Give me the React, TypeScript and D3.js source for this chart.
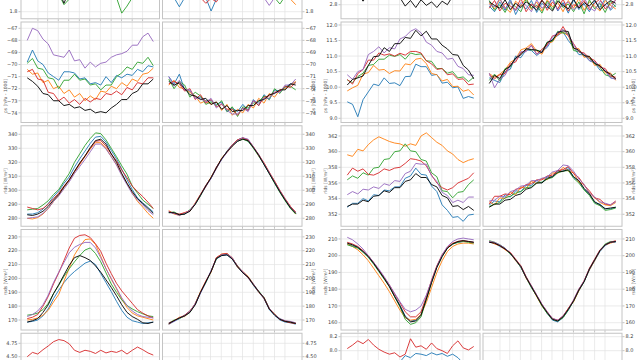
import React from 'react';
import * as d3 from 'd3';

// ---------- categories / styling keys ----------
const COLORS = ['#1f77b4', '#ff7f0e', '#2ca02c', '#d62728', '#9467bd', '#000000'];
const MONTH_STARTS = [31, 59, 90, 120, 151, 181, 212, 243, 273, 304, 334];
const N = 25;
const DAYS = d3.range(N).map(i => (i * 365) / (N - 1));

// ---------- tick labels ----------
const T_R1L = [1.8, 2.0, 2.2, 2.4, 2.6, 2.8, 3.0];
const T_R1R = [2.8, 3.0, 3.2, 3.4, 3.6, 3.8, 4.0];
const T_R2L = [-74, -73, -72, -71, -70, -69, -68, -67];
const T_R2R = [9.0, 9.5, 10.0, 10.5, 11.0, 11.5, 12.0];
const T_R3L = [280, 290, 300, 310, 320, 330, 340];
const T_R3R = [352, 354, 356, 358, 360, 362];
const T_R4L = [170, 180, 190, 200, 210, 220, 230];
const T_R4R = [160, 170, 180, 190, 200, 210];
const T_R5L = [3.5, 3.75, 4.0, 4.25, 4.5, 4.75];
const T_R5R = [7.4, 7.6, 7.8, 8.0, 8.2];

// ---------- row 1 (partially visible) ----------
const r1A_green = [2.3, 2.25, 2.2, 2.2, 2.15, 2.1, 2.05, 1.9, 1.98, 2.05, 2.1, 2.15, 2.2, 2.2, 2.15, 2.1, 2.05, 2.0, 1.78, 1.88, 2.0, 2.1, 2.15, 2.2, 2.25];
const r1A_black = [2.4, 2.35, 2.3, 2.3, 2.25, 2.2, 2.1, 1.92, 2.1, 2.2, 2.25, 2.3, 2.3, 2.35, 2.3, 2.25, 2.2, 2.15, 2.1, 2.05, 2.1, 2.2, 2.25, 2.3, 2.35];
const r1B_blue = [2.1, 2.0, 1.87, 2.0, 2.1, 2.15, 2.1, 2.0, 1.81, 1.98, 2.1, 2.15, 2.2, 2.2, 2.15, 2.1, 2.1, 2.05, 2.05, 2.1, 2.1, 2.15, 2.2, 2.2, 2.15];
const r1B_orange = [2.3, 2.25, 2.2, 2.2, 2.15, 2.15, 2.1, 2.1, 2.1, 2.1, 2.15, 2.2, 2.2, 2.2, 2.15, 2.1, 2.1, 2.05, 2.05, 2.05, 2.05, 2.0, 2.0, 1.98, 1.9];
const r1B_green = [2.3, 2.25, 2.25, 2.2, 2.2, 2.15, 2.1, 2.1, 2.1, 2.15, 2.2, 2.25, 2.25, 2.2, 2.15, 2.1, 2.1, 2.05, 2.05, 2.0, 2.0, 1.91, 2.02, 2.1, 2.15];
const r1B_red = [2.2, 2.15, 2.1, 2.1, 2.05, 2.05, 2.0, 1.92, 1.99, 1.94, 2.05, 2.1, 2.15, 2.2, 2.2, 2.15, 2.1, 2.1, 2.05, 2.1, 2.15, 2.2, 2.2, 2.2, 2.2];
const r1B_purple = [2.3, 2.25, 2.2, 2.2, 2.2, 2.15, 2.15, 2.1, 2.1, 2.1, 2.15, 2.2, 2.2, 2.2, 2.15, 2.1, 2.05, 2.05, 2.0, 1.89, 2.0, 2.1, 2.15, 2.2, 2.25];
const r1C_black = [3.1, 3.0, 2.95, 2.85, 2.95, 3.0, 3.0, 2.95, 2.95, 2.95, 2.9, 2.78, 2.86, 2.76, 2.87, 2.79, 2.84, 2.76, 2.85, 2.8, 2.92, 2.95, 3.0, 3.0, 3.05];
const r1D_blue = [2.78, 2.7, 2.84, 2.72, 2.88, 2.66, 2.8, 2.74, 2.86, 2.69, 2.82, 2.75, 2.9, 2.71, 2.83, 2.68, 2.87, 2.73, 2.81, 2.7, 2.85, 2.76, 2.89, 2.72, 2.8];
const r1D_orange = [2.82, 2.74, 2.88, 2.76, 2.69, 2.85, 2.78, 2.9, 2.73, 2.84, 2.71, 2.87, 2.77, 2.83, 2.7, 2.86, 2.75, 2.89, 2.72, 2.84, 2.78, 2.71, 2.86, 2.79, 2.74];
const r1D_green = [2.86, 2.72, 2.8, 2.69, 2.83, 2.77, 2.7, 2.88, 2.75, 2.79, 2.68, 2.85, 2.73, 2.89, 2.76, 2.81, 2.7, 2.84, 2.67, 2.87, 2.74, 2.82, 2.69, 2.85, 2.77];
const r1D_red = [2.75, 2.86, 2.71, 2.82, 2.78, 2.73, 2.89, 2.7, 2.81, 2.76, 2.87, 2.72, 2.84, 2.74, 2.88, 2.71, 2.8, 2.77, 2.86, 2.73, 2.82, 2.88, 2.74, 2.81, 2.86];
const r1D_purple = [2.8, 2.77, 2.89, 2.74, 2.85, 2.71, 2.83, 2.79, 2.7, 2.87, 2.75, 2.81, 2.88, 2.72, 2.8, 2.84, 2.73, 2.78, 2.9, 2.76, 2.71, 2.85, 2.79, 2.74, 2.88];
const r1D_black = [2.84, 2.79, 2.75, 2.87, 2.73, 2.82, 2.76, 2.84, 2.79, 2.72, 2.86, 2.78, 2.71, 2.85, 2.79, 2.74, 2.88, 2.75, 2.83, 2.78, 2.87, 2.73, 2.8, 2.86, 2.82];

// ---------- row 2: ps ----------
const psA_blue = [-69.8, -68.8, -69.7, -70.0, -70.7, -71.0, -71.3, -70.6, -70.6, -70.7, -71.2, -71.1, -71.6, -71.5, -71.7, -71.0, -71.5, -70.9, -71.1, -70.8, -70.9, -70.4, -70.6, -70.1, -70.2];
const psA_orange = [-70.4, -70.8, -70.7, -71.5, -71.3, -72.0, -71.8, -72.4, -72.1, -72.7, -72.4, -73.0, -72.6, -72.9, -72.2, -72.3, -71.8, -72.0, -71.5, -71.8, -71.2, -71.4, -70.8, -70.7, -70.3];
const psA_green = [-69.9, -69.5, -70.3, -70.4, -71.1, -71.2, -72.0, -71.3, -71.3, -70.8, -71.3, -71.2, -71.7, -71.6, -72.1, -71.7, -71.7, -71.0, -70.7, -70.2, -70.4, -69.8, -69.9, -69.4, -70.1];
const psA_red = [-70.6, -70.4, -71.2, -71.3, -72.3, -72.4, -73.0, -72.7, -73.2, -72.9, -73.3, -72.8, -73.1, -72.8, -72.9, -72.4, -72.5, -72.2, -72.5, -71.9, -72.1, -71.5, -71.6, -71.1, -71.1];
const psA_purple = [-68.0, -67.0, -67.2, -67.9, -68.3, -69.2, -69.3, -69.4, -68.8, -69.7, -69.6, -70.3, -69.8, -70.2, -69.9, -69.8, -69.4, -69.2, -69.1, -68.9, -68.4, -68.4, -67.7, -67.4, -68.1];
const psA_black = [-71.1, -71.4, -71.8, -72.4, -72.5, -73.0, -73.0, -73.4, -73.3, -73.6, -73.5, -73.8, -73.7, -74.0, -73.9, -74.0, -73.6, -73.3, -72.9, -72.9, -72.4, -72.2, -71.6, -71.6, -71.2];

const psB_blue = [-71.0, -71.6, -70.8, -72.1, -72.2, -72.7, -72.7, -73.0, -73.0, -73.3, -73.1, -73.9, -73.6, -73.9, -73.3, -73.8, -72.9, -73.4, -72.5, -72.9, -72.1, -72.2, -71.9, -71.6, -71.5];
const psB_orange = [-71.7, -71.3, -71.9, -72.0, -72.3, -72.6, -73.2, -73.0, -73.3, -73.1, -73.8, -73.3, -74.2, -73.7, -74.0, -73.3, -73.6, -72.8, -73.2, -72.4, -72.7, -72.1, -72.0, -71.7, -71.4];
const psB_green = [-71.2, -72.0, -71.4, -71.7, -72.7, -72.3, -72.6, -73.3, -73.1, -73.4, -73.0, -73.9, -73.5, -74.3, -73.5, -73.6, -73.2, -73.1, -72.6, -72.9, -72.0, -72.4, -71.8, -71.8, -72.1];
const psB_red = [-71.6, -71.4, -71.6, -72.2, -72.0, -72.9, -72.5, -73.2, -72.9, -73.5, -73.3, -73.7, -73.7, -74.2, -73.6, -73.8, -73.0, -73.4, -72.7, -72.6, -72.3, -72.2, -71.8, -71.9, -71.5];
const psB_purple = [-71.0, -71.8, -71.3, -72.1, -72.1, -72.8, -72.8, -73.1, -72.8, -73.6, -73.2, -73.8, -74.1, -74.1, -73.6, -73.9, -73.0, -73.2, -72.8, -72.8, -72.3, -72.3, -71.7, -71.7, -71.2];
const psB_black = [-71.4, -71.7, -71.5, -72.0, -72.5, -72.6, -72.9, -72.8, -73.3, -73.1, -73.7, -73.4, -73.9, -73.8, -73.8, -73.4, -73.4, -73.0, -72.9, -72.5, -72.4, -72.1, -72.1, -71.6, -71.7];

const psC_blue = [9.53, 9.45, 9.05, 9.6, 9.85, 10.1, 10.05, 10.3, 10.12, 10.14, 10.05, 10.34, 10.35, 10.74, 10.66, 10.66, 10.38, 10.41, 10.13, 10.16, 9.98, 10.01, 9.64, 9.7, 9.65];
const psC_orange = [9.88, 9.98, 10.06, 10.42, 10.47, 10.7, 10.55, 10.57, 10.44, 10.53, 10.52, 10.75, 10.72, 10.9, 10.93, 10.76, 10.44, 10.4, 10.2, 10.25, 10.02, 10.03, 9.87, 9.92, 9.75];
const psC_green = [10.23, 10.15, 10.34, 10.45, 10.7, 10.73, 10.9, 10.9, 11.03, 10.99, 11.05, 10.9, 11.1, 11.05, 11.07, 10.85, 10.83, 10.6, 10.6, 10.45, 10.5, 10.3, 10.33, 10.18, 10.32];
const psC_red = [10.25, 10.1, 10.44, 10.57, 10.87, 10.87, 11.1, 11.03, 11.07, 11.0, 11.09, 11.03, 11.15, 11.15, 11.1, 10.85, 10.75, 10.57, 10.6, 10.4, 10.43, 10.25, 10.27, 10.08, 10.1];
const psC_purple = [10.4, 10.25, 10.5, 10.57, 11.05, 11.15, 11.3, 11.1, 11.27, 11.23, 11.55, 11.63, 11.8, 11.88, 11.75, 11.45, 11.35, 11.15, 11.1, 10.9, 10.93, 10.67, 10.6, 10.4, 10.38];
const psC_black = [10.07, 10.25, 10.3, 10.36, 10.7, 10.98, 11.0, 11.27, 11.15, 11.4, 11.4, 11.6, 11.57, 11.83, 11.65, 11.8, 11.55, 11.55, 11.35, 11.23, 11.05, 11.03, 10.7, 10.55, 10.27];

const psD_blue = [10.3, 10.22, 10.15, 10.5, 10.58, 11.0, 10.95, 11.2, 11.18, 11.02, 11.15, 11.28, 11.55, 11.66, 11.78, 11.5, 11.28, 11.05, 11.04, 10.85, 10.78, 10.55, 10.53, 10.3, 10.27];
const psD_orange = [10.44, 10.32, 10.42, 10.56, 10.8, 10.9, 11.2, 11.26, 11.4, 11.16, 11.06, 11.4, 11.46, 11.7, 11.76, 11.66, 11.24, 11.24, 10.96, 10.99, 10.7, 10.74, 10.46, 10.46, 10.22];
const psD_green = [10.22, 10.42, 10.2, 10.6, 10.65, 10.92, 11.08, 11.22, 11.2, 11.19, 11.15, 11.45, 11.48, 11.8, 11.74, 11.74, 11.18, 11.14, 11.04, 10.92, 10.78, 10.64, 10.4, 10.34, 10.45];
const psD_red = [10.4, 10.27, 10.4, 10.44, 10.75, 10.81, 11.1, 11.18, 11.35, 11.06, 11.22, 11.36, 11.65, 11.68, 11.95, 11.66, 11.4, 11.14, 11.1, 10.94, 10.86, 10.64, 10.6, 10.36, 10.32];
const psD_purple = [10.45, 9.98, 10.26, 10.38, 10.7, 10.88, 11.14, 11.14, 11.34, 11.06, 11.16, 11.32, 11.62, 11.76, 11.86, 11.68, 11.36, 11.14, 11.06, 10.86, 10.82, 10.68, 10.54, 10.31, 10.25];
const psD_black = [10.12, 10.38, 10.28, 10.56, 10.68, 10.94, 11.04, 11.24, 11.21, 11.19, 11.11, 11.44, 11.51, 11.76, 11.81, 11.79, 11.26, 11.19, 11.01, 10.99, 10.76, 10.69, 10.51, 10.42, 10.27];

// ---------- row 3: rlds ----------
const rlA_blue = [283, 283, 284, 286.5, 290.5, 295.5, 299.5, 305, 309.5, 316.5, 322.5, 328, 333.5, 338, 338.5, 334.5, 328.5, 322.5, 315, 307.5, 300.5, 294.5, 291, 287.8, 284.5];
const rlA_orange = [280, 279.5, 280.5, 283, 287, 292, 296.5, 302, 307, 313, 318.5, 324, 329.5, 334, 334, 330, 324, 318.5, 311.5, 305, 298, 292, 288, 283.5, 280];
const rlA_green = [286, 286.5, 287, 289.5, 292.5, 297, 300.5, 306.5, 312, 320, 326, 332, 337, 341, 340.5, 336, 330, 324, 317.5, 311.5, 303, 298, 293, 290, 287];
const rlA_red = [288, 287, 286, 287, 290, 294, 298, 303, 307.5, 313.5, 319, 324.5, 330, 335, 335.5, 331.5, 326, 321, 314.5, 309, 303, 299, 295.5, 291.5, 287];
const rlA_purple = [280, 280.5, 281, 283.5, 287, 292, 296, 301, 306, 312, 317, 322, 327.5, 333, 333, 329.5, 324, 318, 310.5, 304, 297.5, 293, 289.5, 285.5, 282.5];
const rlA_black = [282.5, 282, 283, 285, 288.5, 293, 297, 302.5, 307.5, 313.5, 319.5, 324.5, 330.5, 335.5, 336.5, 333, 326, 320, 312, 305, 299, 294, 290.5, 287, 283.5];

const rlB_blue = [284.5, 283.5, 282.8, 283.2, 285.8, 290.2, 296.5, 303.5, 308.5, 316.5, 322, 328, 332.5, 336, 337.5, 335, 330.5, 325.5, 318.5, 312, 305.5, 299, 293, 287.5, 283.5];
const rlB_orange = [285.5, 283, 282.2, 284, 285, 291, 297, 302.5, 309.5, 315.5, 323, 327, 331.5, 336, 337, 336, 331, 324.5, 319.5, 312.5, 306.5, 299.5, 293.5, 288.5, 283];
const rlB_green = [284, 284.5, 282.5, 283, 286, 290, 296, 303, 309, 316, 322.5, 327.5, 332, 335, 336.5, 335, 330, 324.5, 318.5, 312, 305, 298.5, 292.5, 287, 283];
const rlB_red = [285, 283.5, 283, 284, 285.5, 290.5, 297, 303.5, 309, 316.5, 322.5, 327.5, 332.5, 336, 337.5, 336, 331, 325.5, 319.5, 313, 306.5, 300, 294, 288.5, 284.5];
const rlB_purple = [284.5, 283.5, 282, 283.5, 285.5, 290.5, 296.5, 302.5, 308.5, 315.5, 322, 327, 332, 335.5, 337.5, 336.5, 331, 325, 319, 312.5, 306, 299.5, 293.5, 288, 284];
const rlB_black = [284, 284, 282.5, 283, 285, 290, 296.5, 303, 309, 316, 322.5, 327.5, 331.5, 335, 336.5, 335.5, 330.5, 325, 318.5, 312, 305.5, 299, 293, 287.5, 283.5];

const rlC_blue = [352.9, 353.4, 353.4, 354.0, 353.7, 354.5, 354.4, 355.1, 355.0, 355.5, 355.5, 356.6, 356.9, 357.9, 357.1, 357.0, 355.6, 354.9, 353.2, 352.5, 351.6, 351.7, 351.1, 351.9, 352.0];
const rlC_orange = [359.6, 359.4, 360.3, 360.1, 360.9, 361.5, 361.9, 361.6, 361.3, 361.1, 361.0, 360.7, 361.0, 360.8, 362.0, 362.4, 361.8, 361.2, 360.8, 360.1, 359.7, 359.0, 358.6, 358.9, 359.1];
const rlC_green = [356.4, 356.9, 356.6, 357.3, 357.0, 357.9, 358.0, 359.0, 359.1, 360.0, 360.1, 361.0, 360.1, 360.0, 359.0, 358.8, 357.3, 356.8, 355.0, 354.9, 354.1, 354.8, 354.9, 355.8, 356.4];
const rlC_red = [357.0, 357.9, 357.5, 357.8, 357.1, 357.0, 357.3, 357.8, 357.6, 357.9, 358.0, 358.5, 359.1, 359.0, 358.8, 358.2, 357.0, 356.0, 355.4, 355.1, 355.4, 356.0, 356.3, 356.6, 357.3];
const rlC_purple = [354.5, 354.9, 354.6, 355.2, 355.1, 355.5, 355.3, 355.9, 355.7, 356.3, 356.2, 357.2, 357.5, 358.5, 358.4, 358.4, 356.9, 356.2, 354.8, 354.4, 353.5, 353.8, 353.5, 354.2, 354.2];
const rlC_black = [353.0, 353.3, 353.3, 353.8, 353.6, 354.3, 354.4, 355.0, 354.8, 355.4, 355.4, 356.2, 356.4, 357.2, 356.7, 356.7, 355.8, 355.5, 354.4, 354.1, 353.0, 353.1, 352.6, 353.0, 352.5];

const rlD_blue = [353.2, 353.7, 353.6, 354.5, 354.2, 355.0, 354.9, 355.7, 355.7, 356.3, 356.0, 356.8, 356.8, 357.6, 357.5, 358.0, 356.7, 356.2, 355.2, 354.6, 353.5, 353.3, 352.7, 352.7, 352.9];
const rlD_orange = [353.6, 353.2, 354.1, 354.0, 354.8, 354.5, 355.5, 355.3, 356.2, 355.9, 356.6, 356.4, 357.3, 357.2, 358.0, 357.5, 357.3, 356.1, 355.8, 354.7, 354.1, 353.5, 353.2, 353.1, 353.5];
const rlD_green = [353.0, 353.3, 353.5, 354.1, 354.3, 354.7, 354.9, 355.4, 355.5, 356.0, 356.1, 356.5, 356.7, 357.3, 357.5, 357.6, 356.6, 356.0, 355.1, 354.4, 353.4, 353.1, 352.5, 352.6, 352.8];
const rlD_red = [353.3, 354.3, 354.3, 354.6, 354.5, 355.2, 355.3, 355.8, 355.9, 356.4, 356.4, 356.9, 357.0, 357.6, 357.7, 358.1, 357.2, 356.7, 355.7, 355.0, 354.1, 353.9, 353.3, 353.2, 353.7];
const rlD_purple = [353.7, 353.8, 354.3, 354.2, 354.9, 355.1, 355.6, 355.7, 356.3, 356.3, 356.6, 356.8, 357.4, 357.6, 358.3, 358.2, 357.5, 356.5, 355.8, 354.7, 354.2, 353.6, 353.4, 353.2, 353.6];
const rlD_black = [352.9, 353.3, 353.3, 353.8, 353.9, 354.4, 354.6, 355.2, 355.4, 356.0, 356.0, 356.6, 356.8, 357.4, 357.5, 357.7, 356.8, 356.3, 355.3, 354.6, 353.6, 353.2, 352.7, 352.8, 352.9];

// ---------- row 4: rsds ----------
const rsA_blue = [168.5, 169, 170, 173, 178, 185.5, 191.5, 197, 201.5, 205, 208, 211, 212.5, 210, 203.5, 197, 190.5, 183.5, 177, 172, 169.5, 168.5, 167.5, 168, 168.5];
const rsA_orange = [170, 170.5, 171.5, 173.5, 177, 183, 188.5, 198, 207.5, 217, 223, 228, 228.5, 224.5, 216, 207, 199.5, 192.5, 185, 179, 175, 173, 172, 171, 170];
const rsA_green = [173.5, 174, 175, 177.5, 182, 189, 195, 201.5, 207, 212, 216.5, 220.5, 222, 218, 212, 204, 196, 190, 184.5, 180.5, 178, 176, 174.5, 173, 172.5];
const rsA_red = [171, 172, 174, 180, 187, 196, 204, 213, 222, 229, 231, 231.5, 229.5, 225, 219.5, 211, 203.5, 196.5, 191, 186.5, 182, 177.5, 175, 173, 171.5];
const rsA_purple = [172.5, 174, 176.5, 181, 188, 197, 204.5, 211.5, 218.5, 222.5, 224.5, 226, 226, 222, 215, 207, 200, 193, 186, 180.5, 176.5, 174, 172.5, 172, 171.5];
const rsA_black = [168.5, 169.5, 171, 175.5, 181, 189, 195.5, 202.5, 209.5, 215, 216.5, 215, 213, 209, 204.5, 199, 193.5, 187.5, 181, 175.5, 172.5, 170.5, 168, 167.5, 168.5];

const rsB_blue = [167, 169, 171, 173.5, 176.5, 181, 189.5, 197, 205.5, 214, 216.5, 217, 214, 208, 204, 200.5, 195, 190, 185.5, 177.5, 173.5, 170, 168.5, 168, 167];
const rsB_orange = [168, 169.5, 172, 172.5, 176, 182, 190.5, 198, 204.5, 215, 217.5, 218, 215, 208, 205, 201.5, 196, 190, 186.5, 178.5, 174.5, 170.5, 169.5, 168.5, 168];
const rsB_green = [167.5, 170, 171, 173, 175.5, 181.5, 190, 197, 205, 214, 217, 217.5, 214.5, 209, 204.5, 201, 195.5, 191, 186, 178, 174, 171, 169, 168.5, 167.5];
const rsB_red = [167, 169.5, 171.5, 173.5, 176.5, 181.5, 190, 198, 205, 215, 217.5, 218, 214.5, 209, 204.5, 200.5, 195.5, 190.5, 185.5, 178, 174, 170.5, 169, 168, 167.5];
const rsB_purple = [168, 169, 171.5, 173, 176, 182, 189.5, 197.5, 205.5, 214.5, 217, 217.5, 215, 208.5, 205, 201, 196, 190.5, 186, 178.5, 174, 171, 169.5, 169, 168];
const rsB_black = [167.5, 169.5, 171.5, 173, 175.5, 181, 190, 197.5, 205, 214.5, 216.5, 217, 214, 208.5, 204, 201, 195.5, 190.5, 186, 178, 173.5, 170.5, 169, 168.5, 167.5];

const rsC_blue = [207, 206, 205, 202.5, 199.5, 195.5, 191, 186.5, 182, 176, 170.5, 164, 161, 161.5, 165, 174.5, 184.5, 193.5, 200, 204.5, 207, 208, 208.5, 208.5, 208];
const rsC_orange = [207, 205.5, 203.5, 200.5, 197, 192.5, 188, 183.5, 178.5, 173, 167.5, 163, 161.5, 162, 165, 172, 181, 190, 197, 202.5, 205.5, 207, 207.5, 207.5, 207];
const rsC_green = [206.5, 205.5, 204.5, 202, 199, 195, 190.5, 186, 181.5, 175.5, 169.5, 162, 159, 160, 163.5, 174, 184, 193, 199.5, 204.5, 207, 208, 208.5, 208, 207.5];
const rsC_red = [208, 207, 205.5, 203, 200, 196, 191.5, 187, 182.5, 177, 172, 166.5, 163.5, 163.5, 166.5, 175.5, 185.5, 194, 200.5, 205, 207.5, 208.5, 209, 208.5, 208];
const rsC_purple = [211, 209.5, 207, 204, 200, 196, 192, 187.5, 182.5, 177.5, 172.5, 168, 166.5, 167.5, 170, 176.5, 185, 193.5, 200.5, 205.5, 208.5, 210, 210.5, 210, 209.5];
const rsC_black = [207.5, 206.5, 205, 202.5, 199.5, 195.5, 191, 186.5, 181.5, 175.5, 170, 163.5, 160.5, 161, 164.5, 174, 184, 193, 199.5, 204.5, 207, 208.5, 209, 208.5, 208];

const rsD_blue = [208, 207.5, 205.5, 204, 201, 197.5, 193, 187, 181, 176, 170.5, 165.5, 161.5, 160.5, 163, 167.5, 173, 179, 184.5, 191.5, 197, 202.5, 206, 208, 208];
const rsD_orange = [208.5, 207, 206, 203.5, 201.5, 197, 193.5, 186.5, 181.5, 175.5, 170, 166, 162, 161.5, 163.5, 168.5, 172.5, 179, 185, 191.5, 197, 203, 206.5, 207.5, 208.5];
const rsD_green = [209, 208, 206.5, 204.5, 201, 197.5, 193, 187, 181, 176, 170, 165.5, 162, 161, 163, 167.5, 173, 179.5, 184.5, 192, 197.5, 203, 207, 208.5, 208.5];
const rsD_red = [208.5, 207.5, 206, 204, 202, 198, 194, 187.5, 182, 176.5, 171, 166.5, 162.5, 161.5, 164, 168.5, 173.5, 180, 185, 192.5, 198, 203.5, 206.5, 208, 209];
const rsD_purple = [208.5, 208, 206.5, 204.5, 201.5, 197.5, 193.5, 187, 182, 176.5, 171, 166.5, 162.5, 161.5, 164, 168, 173.5, 180, 185, 192, 197.5, 203, 206.5, 208, 208.5];
const rsD_black = [208, 207.5, 206, 204, 201.5, 197.5, 193.5, 187, 181.5, 176, 170.5, 166, 162, 161, 163.5, 168, 173, 179.5, 184.5, 192, 197.5, 203, 206.5, 208, 208.5];

// ---------- row 5 (partially visible) ----------
const r5A_red = [4.5, 4.58, 4.55, 4.63, 4.7, 4.78, 4.82, 4.8, 4.74, 4.62, 4.58, 4.62, 4.6, 4.56, 4.62, 4.57, 4.6, 4.58, 4.62, 4.55, 4.62, 4.68, 4.63, 4.57, 4.53];
const r5C_blue = [7.8, 7.82, 7.8, 7.81, 7.8, 7.82, 7.8, 7.81, 7.8, 7.82, 7.84, 7.93, 7.9, 7.96, 7.95, 7.93, 7.97, 7.94, 7.96, 7.92, 7.95, 7.9, 7.82, 7.8, 7.8];
const r5C_red = [8.03, 8.08, 8.14, 8.1, 8.16, 8.08, 8.02, 7.98, 7.95, 7.97, 7.91, 7.95, 8.17, 8.05, 8.07, 8.02, 8.11, 8.03, 8.0, 7.96, 8.07, 8.14, 8.04, 8.01, 8.06];

// ---------- layout ----------
const COLS: [number, number][] = [[21, 159.5], [162.5, 302], [341, 480], [483, 622]];
const ROW_TOP0 = -81.75;
const ROW_STEP = 103.75;
const ROW_H = 100.5;

type Panel = {
  row: number; col: number; dom: [number, number]; ticks: number[]; fmt: string;
  lines: [number, number[]][];
};

const all6 = (b: number[], o: number[], g: number[], r: number[], p: number[], k: number[]): [number, number[]][] =>
  [[0, b], [1, o], [2, g], [3, r], [4, p], [5, k]];

const PANELS: Panel[] = [
  { row: 0, col: 0, dom: [1.70, 3.13], ticks: T_R1L, fmt: '.1f', lines: [[2, r1A_green], [5, r1A_black]] },
  { row: 0, col: 1, dom: [1.70, 3.13], ticks: T_R1L, fmt: '.1f', lines: [[0, r1B_blue], [1, r1B_orange], [2, r1B_green], [3, r1B_red], [4, r1B_purple]] },
  { row: 0, col: 2, dom: [2.60, 4.03], ticks: T_R1R, fmt: '.1f', lines: [[5, r1C_black]] },
  { row: 0, col: 3, dom: [2.60, 4.03], ticks: T_R1R, fmt: '.1f', lines: all6(r1D_blue, r1D_orange, r1D_green, r1D_red, r1D_purple, r1D_black) },
  { row: 1, col: 0, dom: [-74.8, -66.48], ticks: T_R2L, fmt: 'd', lines: all6(psA_blue, psA_orange, psA_green, psA_red, psA_purple, psA_black) },
  { row: 1, col: 1, dom: [-74.8, -66.48], ticks: T_R2L, fmt: 'd', lines: all6(psB_blue, psB_orange, psB_green, psB_red, psB_purple, psB_black) },
  { row: 1, col: 2, dom: [8.865, 12.096], ticks: T_R2R, fmt: '.1f', lines: all6(psC_blue, psC_orange, psC_green, psC_red, psC_purple, psC_black) },
  { row: 1, col: 3, dom: [8.865, 12.096], ticks: T_R2R, fmt: '.1f', lines: all6(psD_blue, psD_orange, psD_green, psD_red, psD_purple, psD_black) },
  { row: 2, col: 0, dom: [274.3, 346.1], ticks: T_R3L, fmt: 'd', lines: all6(rlA_blue, rlA_orange, rlA_green, rlA_red, rlA_purple, rlA_black) },
  { row: 2, col: 1, dom: [274.3, 346.1], ticks: T_R3L, fmt: 'd', lines: all6(rlB_blue, rlB_orange, rlB_green, rlB_red, rlB_purple, rlB_black) },
  { row: 2, col: 2, dom: [350.47, 363.31], ticks: T_R3R, fmt: 'd', lines: all6(rlC_blue, rlC_orange, rlC_green, rlC_red, rlC_purple, rlC_black) },
  { row: 2, col: 3, dom: [350.47, 363.31], ticks: T_R3R, fmt: 'd', lines: all6(rlD_blue, rlD_orange, rlD_green, rlD_red, rlD_purple, rlD_black) },
  { row: 3, col: 0, dom: [162.8, 235.3], ticks: T_R4L, fmt: 'd', lines: all6(rsA_blue, rsA_orange, rsA_green, rsA_red, rsA_purple, rsA_black) },
  { row: 3, col: 1, dom: [162.8, 235.3], ticks: T_R4L, fmt: 'd', lines: all6(rsB_blue, rsB_orange, rsB_green, rsB_red, rsB_purple, rsB_black) },
  { row: 3, col: 2, dom: [155.64, 215.64], ticks: T_R4R, fmt: 'd', lines: all6(rsC_blue, rsC_orange, rsC_green, rsC_red, rsC_purple, rsC_black) },
  { row: 3, col: 3, dom: [155.64, 215.64], ticks: T_R4R, fmt: 'd', lines: all6(rsD_blue, rsD_orange, rsD_green, rsD_red, rsD_purple, rsD_black) },
  { row: 4, col: 0, dom: [3.0625, 4.9375], ticks: T_R5L, fmt: '.2f', lines: [[3, r5A_red]] },
  { row: 4, col: 1, dom: [3.0625, 4.9375], ticks: T_R5L, fmt: '.2f', lines: [] },
  { row: 4, col: 2, dom: [6.8136, 8.249], ticks: T_R5R, fmt: '.1f', lines: [[0, r5C_blue], [3, r5C_red]] },
  { row: 4, col: 3, dom: [6.8136, 8.249], ticks: T_R5R, fmt: '.1f', lines: [] },
];

const ROW_LABELS = ['', 'ps [hPa - 1000]', 'rlds [W/m²]', 'rsds [W/m²]', ''];
const LABEL_Y = [0, 96, 181, 282, 0];

const FONT = 'DejaVu Sans, sans-serif';

function PanelView({ p, idx }: { p: Panel; idx: number }) {
  const [x0, x1] = COLS[p.col];
  const y0 = ROW_TOP0 + p.row * ROW_STEP;
  const y1 = y0 + ROW_H;
  const pad = (x1 - x0) * 0.045;
  const x = d3.scaleLinear().domain([0, 365]).range([x0 + pad, x1 - pad]);
  const y = d3.scaleLinear().domain(p.dom).range([y1, y0]);
  const line = d3.line<number>().x((_, i) => x(DAYS[i])).y(v => y(v));
  const right = p.col % 2 === 1;
  const fmt = d3.format(p.fmt);
  const clipId = `clip${idx}`;
  return (
    <g>
      <defs>
        <clipPath id={clipId}>
          <rect x={x0} y={y0} width={x1 - x0} height={y1 - y0} />
        </clipPath>
      </defs>
      <rect x={x0} y={y0} width={x1 - x0} height={y1 - y0} fill="#fff" />
      <g clipPath={`url(#${clipId})`}>
        {MONTH_STARTS.map(d => (
          <line key={'v' + d} x1={x(d)} x2={x(d)} y1={y0} y2={y1} stroke="#e3e3e3" strokeWidth={0.7} />
        ))}
        {p.ticks.map(t => (
          <line key={'h' + t} x1={x0} x2={x1} y1={y(t)} y2={y(t)} stroke="#e3e3e3" strokeWidth={0.7} />
        ))}
        {p.lines.map(([c, vals], k) => (
          <path key={k} d={line(vals) || ''} fill="none" stroke={COLORS[c]} strokeWidth={0.9} strokeLinejoin="round" />
        ))}
      </g>
      <rect x={x0} y={y0} width={x1 - x0} height={y1 - y0} fill="none" stroke="#c4c4c4" strokeWidth={1} />
      {y1 < 358 && MONTH_STARTS.map(d => (
        <line key={'xt' + d} x1={x(d)} x2={x(d)} y1={y1 + 0.5} y2={y1 + 2.5} stroke="#9a9a9a" strokeWidth={0.6} />
      ))}
      {p.ticks.map(t => {
        const yy = y(t);
        if (yy < y0 - 0.5 || yy > y1 + 0.5 || yy < 3 || yy > 357) return null;
        return (
          <g key={'yt' + t}>
            <line x1={right ? x1 + 0.5 : x0 - 0.5} x2={right ? x1 + 2.5 : x0 - 2.5} y1={yy} y2={yy} stroke="#9a9a9a" strokeWidth={0.6} />
            <text x={right ? x1 + 3.5 : x0 - 3.5} y={yy} dy="0.35em" textAnchor={right ? 'start' : 'end'}
              fontSize={5} fill="#444" fontFamily={FONT}>{fmt(t)}</text>
          </g>
        );
      })}
      {ROW_LABELS[p.row] && (
        <text transform={`translate(${right ? x1 + 13 : x0 - 14},${LABEL_Y[p.row]}) rotate(-90)`} textAnchor="middle"
          fontSize={4.5} fill="#555" fontFamily={FONT}>{ROW_LABELS[p.row]}</text>
      )}
    </g>
  );
}

export default function App() {
  return (
    <svg width={640} height={360} viewBox="0 0 640 360"
      style={{ position: 'absolute', left: 0, top: 0, background: '#fff' }}>
      <rect width={640} height={360} fill="#fff" />
      {PANELS.map((p, i) => <PanelView key={i} p={p} idx={i} />)}
    </svg>
  );
}
